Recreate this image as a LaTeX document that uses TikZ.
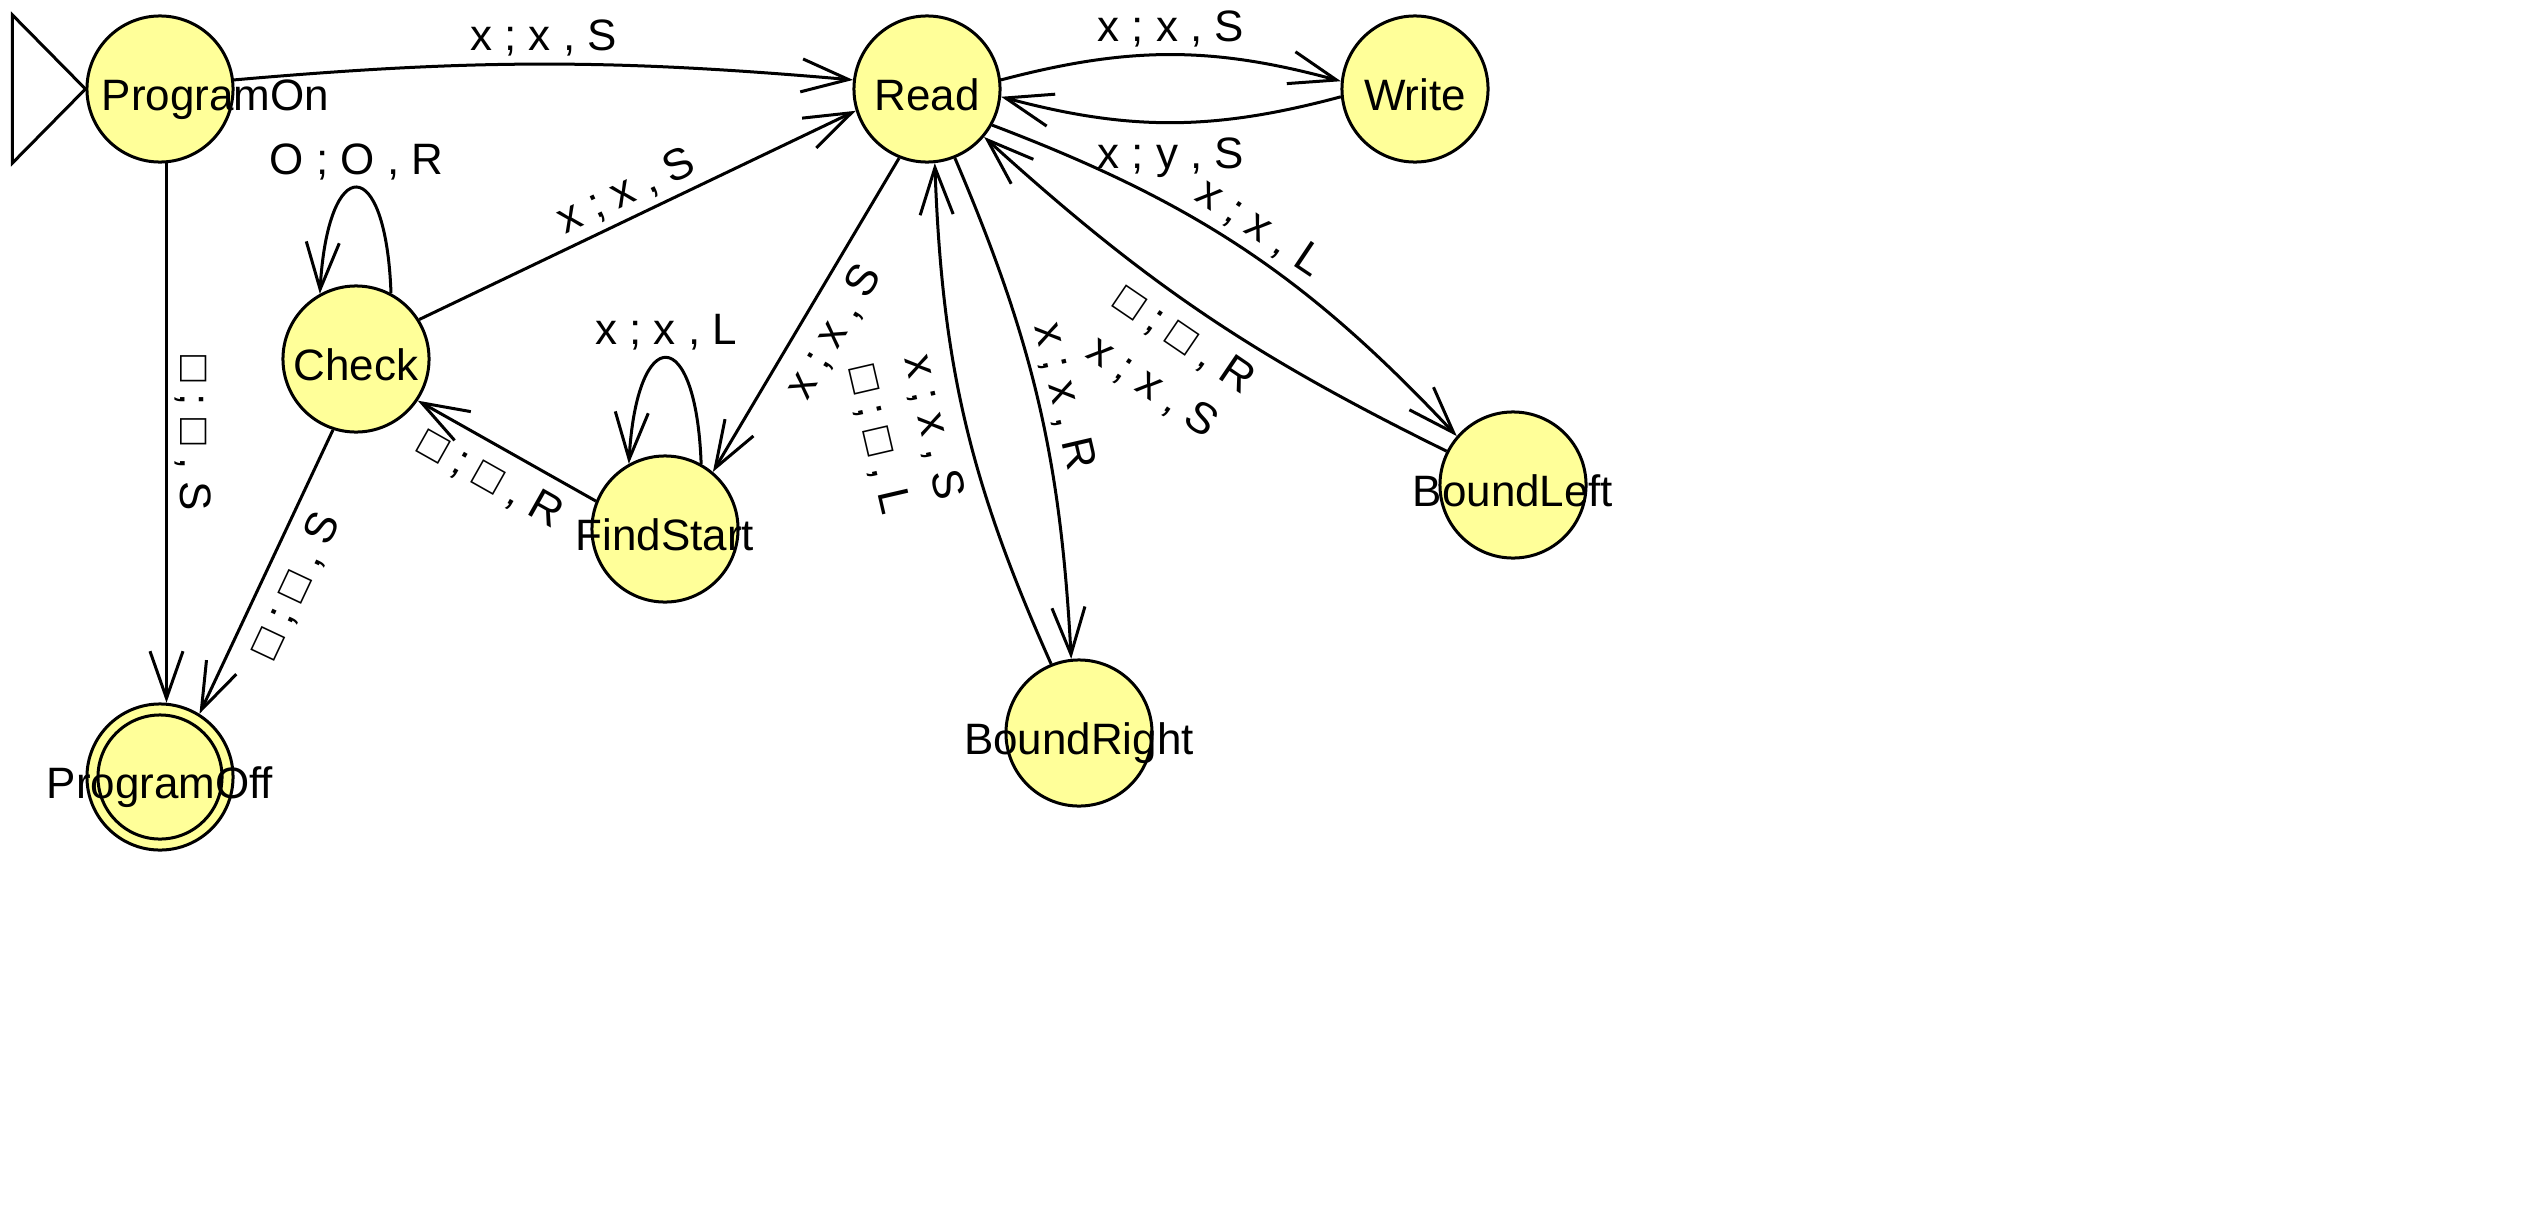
\documentclass[tikz,border=0pt]{standalone}
\usepackage{fontspec}
\setmainfont{Liberation Sans}
\usetikzlibrary{arrows.meta}

\definecolor{stateyellow}{RGB}{255,255,153}

\tikzset{
    state/.style={circle, draw, fill=stateyellow, minimum size=1.46cm, inner sep=0pt,
        text height=0.43cm, text depth=0cm},
    trans/.style={inner sep=0.12cm, text height=0.32cm, text depth=0cm},
    secondline/.style={outer ysep=0.58cm}
}

\begin{document}
\begin{tikzpicture}[
    % coordenadas em pixels da figura
    x=0.01cm, y=0.01cm,
    line width=0.03cm,
    >={Straight Barb[length=0.47cm,width=0.33cm]},
    font=\fontsize{12.5pt}{14pt}\selectfont
]

    \useasboundingbox (0,0) rectangle (2533,-1227);

    % ==========================================
    % 1. ESTADOS
    % ==========================================
    \node[state] (ProgramOn)  at (160,-89)  {\makebox[0pt][l]{\hspace*{-0.58cm}ProgramOn}};
    \node[state] (Read)       at (927,-89)  {\makebox[0pt]{Read}};
    \node[state] (Write)      at (1415,-89) {\makebox[0pt]{Write}};
    \node[state] (Check)      at (356,-359) {\makebox[0pt]{Check}};
    \node[state] (FindStart)  at (665,-529) {\makebox[0pt]{FindStart}};
    \node[state] (BoundLeft)  at (1513,-485) {\makebox[0pt]{BoundLeft}};
    \node[state] (BoundRight) at (1079,-733) {\makebox[0pt]{BoundRight}};
    \node[state] (ProgramOff) at (160,-777) {\makebox[0pt]{ProgramOff}};
    \draw (ProgramOff) circle[radius=0.62cm]; % estado final

    % triangulo do estado inicial
    \draw (ProgramOn.west) -- ++(-73,74) -- ++(0,-148) -- cycle;

    % ==========================================
    % 2. TRANSICOES
    % ==========================================
    \draw[->] (ProgramOn.7) to[bend left=5] node[trans, above] {x ; x , S} (Read.173);
    \draw[->] (ProgramOn.-85) -- node[trans, above, rotate=-90] {□ ; □ , S} (ProgramOff.85);

    \draw[->] (Read.7) to[bend left=15] node[trans, above] {x ; x , S} (Write.174);
    \draw[->] (Write.186) to[bend left=15] node[trans, below] {x ; y , S} (Read.-6);

    \draw[->] (Check.32) -- node[trans, above, sloped] {x ; x , S} (Read.197);
    \draw[->] (Check.62) .. controls +(-5,141) and +(8,141) .. node[trans, above] {O ; O , R} (Check.119);
    \draw[->] (Check.252) -- node[trans, below, sloped] {□ ; □ , S} (ProgramOff.58);

    \draw[->] (FindStart.158) -- node[trans, below, sloped] {□ ; □ , R} (Check.-34);
    \draw[->] (FindStart.61) .. controls +(-5,141) and +(8,141) .. node[trans, above] {x ; x , L} (FindStart.119);
    \draw[->] (Read.248) -- node[trans, below, sloped] {x ; x , S} (FindStart.50);

    \draw[->] (Read.-68) to[bend left=10] node[trans, above, sloped] {x ; x , R} (BoundRight.96);
    \draw[->] (BoundRight.112) to[bend left=11]
        node[trans, below, sloped] {x ; x , S}
        node[trans, secondline, below, sloped] {□ ; □ , L} (Read.-84);

    \draw[->] (Read.-29) to[bend left=13] node[trans, above, sloped] {x ; x , L} (BoundLeft.139);
    \draw[->] (BoundLeft.153) to[bend left=8]
        node[trans, below, sloped] {□ ; □ , R}
        node[trans, secondline, below, sloped] {x ; x , S} (Read.-40);

\end{tikzpicture}
\end{document}
